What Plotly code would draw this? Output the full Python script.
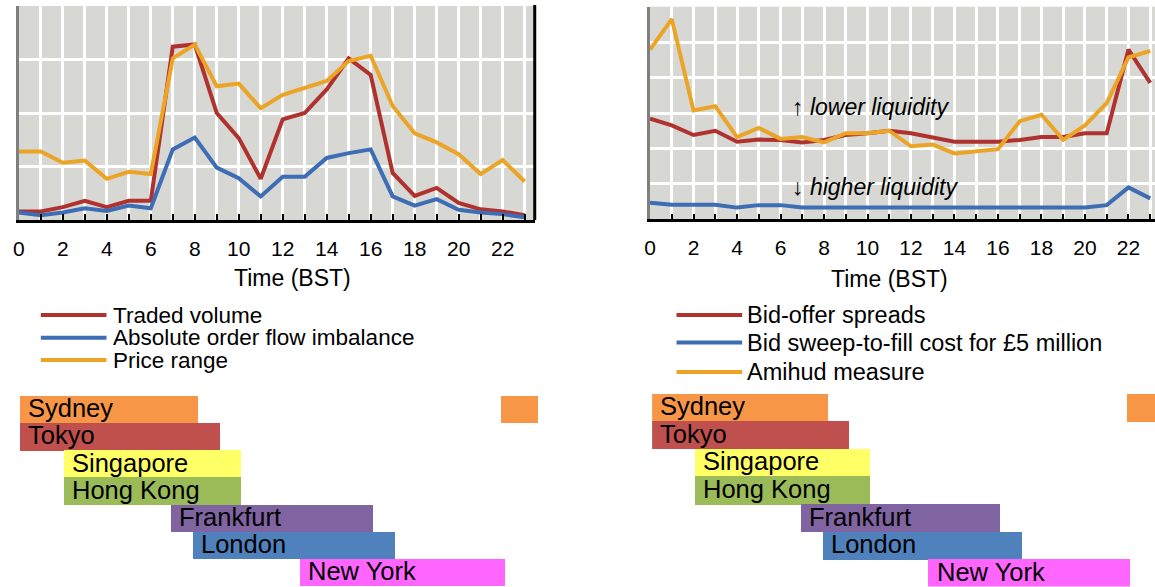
import plotly.graph_objects as go

# ---------------- data ----------------
hours = list(range(24))
tick_labels = ["0", "", "2", "", "4", "", "6", "", "8", "", "10", "", "12", "",
               "14", "", "16", "", "18", "", "20", "", "22", ""]

# left panel
traded_volume = [0.16, 0.16, 0.24, 0.36, 0.24, 0.36, 0.36, 3.24, 3.28, 2.00, 1.53, 0.77,
                 1.88, 2.00, 2.44, 3.02, 2.71, 0.88, 0.45, 0.60, 0.32, 0.20, 0.16, 0.09]
order_flow_imbalance = [0.14, 0.09, 0.14, 0.22, 0.17, 0.27, 0.22, 1.32, 1.54, 0.98, 0.78, 0.44,
                        0.81, 0.81, 1.16, 1.25, 1.32, 0.44, 0.27, 0.39, 0.19, 0.14, 0.11, 0.05]
price_range = [1.28, 1.28, 1.07, 1.11, 0.77, 0.90, 0.86, 3.02, 3.28, 2.50, 2.55, 2.09,
               2.34, 2.47, 2.60, 2.97, 3.07, 2.13, 1.62, 1.45, 1.23, 0.86, 1.12, 0.72]

# right panel
bid_offer_spreads = [2.84, 2.65, 2.38, 2.50, 2.19, 2.25, 2.24, 2.17, 2.24, 2.38, 2.43, 2.50,
                     2.43, 2.32, 2.19, 2.19, 2.19, 2.24, 2.32, 2.32, 2.43, 2.43, 4.79, 3.85]
sweep_to_fill_cost = [0.47, 0.41, 0.41, 0.41, 0.33, 0.40, 0.40, 0.33, 0.33, 0.33, 0.33, 0.33,
                      0.33, 0.33, 0.33, 0.33, 0.33, 0.33, 0.33, 0.33, 0.33, 0.40, 0.90, 0.59]
amihud_measure = [4.79, 5.65, 3.07, 3.19, 2.32, 2.58, 2.27, 2.32, 2.17, 2.43, 2.43, 2.50,
                  2.06, 2.11, 1.86, 1.92, 1.98, 2.77, 2.95, 2.24, 2.65, 3.28, 4.57, 4.75]

# trading sessions (hours, BST)
session_names = ["Sydney", "Tokyo", "Singapore", "Hong Kong", "Frankfurt", "London", "New York"]
session_start = [0, 0, 2, 2, 6.9, 7.9, 12.8]
session_end = [8.14, 9.14, 10.11, 10.11, 16.14, 17.14, 22.14]
sydney_late_start = 22.0
sydney_late_end = 23.68
session_colors = ["#F79646", "#C0504D", "#FFFF66", "#9BBB59", "#8064A2", "#4F81BD", "#FF66FF"]

left_names = ["Traded volume", "Absolute order flow imbalance", "Price range"]
right_names = ["Bid-offer spreads", "Bid sweep-to-fill cost for £5 million", "Amihud measure"]
line_colors = ["#B0322E", "#3D6DB5", "#ECA426"]

# ---------------- figure ----------------
W, H = 1155, 587
FONT = "Liberation Sans, Arial, sans-serif"
GRID_BG = "#D7D7D3"


def px(x):
    return x / W


def py(y):
    return 1 - y / H


fig = go.Figure()

for series, col in zip([traded_volume, order_flow_imbalance, price_range], line_colors):
    fig.add_trace(go.Scatter(x=hours, y=series, mode="lines",
                             line=dict(color=col, width=4), xaxis="x", yaxis="y",
                             showlegend=False, hoverinfo="skip"))
for series, col in zip([bid_offer_spreads, sweep_to_fill_cost, amihud_measure], line_colors):
    fig.add_trace(go.Scatter(x=hours, y=series, mode="lines",
                             line=dict(color=col, width=4), xaxis="x2", yaxis="y2",
                             showlegend=False, hoverinfo="skip"))

rows = list(range(len(session_names))) + [0]
starts = session_start + [sydney_late_start]
ends = session_end + [sydney_late_end]
durations = [e - s for s, e in zip(starts, ends)]
colors = session_colors + [session_colors[0]]
for xa, ya in [("x3", "y3"), ("x4", "y4")]:
    fig.add_trace(go.Bar(orientation="h", y=rows, x=durations, base=starts,
                         marker=dict(color=colors, line=dict(width=0)), width=1.02,
                         xaxis=xa, yaxis=ya, showlegend=False, hoverinfo="skip"))

chart_x = dict(
    tickmode="array", tickvals=hours, ticktext=tick_labels,
    showgrid=True, gridcolor="white", gridwidth=3,
    showline=True, linecolor="black", linewidth=2.5,
    ticks="inside", ticklen=6, tickwidth=2, tickcolor="black",
    tickfont=dict(family=FONT, size=21, color="black"),
    ticklabelstandoff=8, zeroline=False, fixedrange=True,
)
chart_y = dict(
    showticklabels=False, ticks="", dtick=1, showgrid=True, gridcolor="white",
    gridwidth=3, showline=True, linecolor="#7F7F7F", linewidth=3, zeroline=False,
    fixedrange=True,
)
bar_x = dict(visible=False, showgrid=False, zeroline=False, fixedrange=True)
bar_y = dict(visible=False, showgrid=False, zeroline=False, range=[6.5, -0.5], fixedrange=True)

fig.update_layout(
    width=W, height=H, margin=dict(l=0, r=0, t=0, b=0),
    paper_bgcolor="white", plot_bgcolor="white",
    font=dict(family=FONT, color="black"),
    bargap=0,
    xaxis=dict(chart_x, domain=[px(12.9), px(531.5)], range=[0, 23.46], anchor="y"),
    yaxis=dict(chart_y, domain=[py(220), py(6)], range=[0, 4], anchor="x"),
    xaxis2=dict(chart_x, domain=[px(647.4), 1], range=[0, 23.22], anchor="y2"),
    yaxis2=dict(chart_y, domain=[py(219.3), py(6.7)], range=[0, 6], anchor="x2"),
    xaxis3=dict(bar_x, domain=[px(14), px(542)], range=[0, 24], anchor="y3"),
    yaxis3=dict(bar_y, domain=[py(586), py(395.6)], anchor="x3"),
    xaxis4=dict(bar_x, domain=[px(649.5), 1], range=[0, 23.29], anchor="y4"),
    yaxis4=dict(bar_y, domain=[py(586.5), py(393.5)], anchor="x4"),
)

shapes = []
# grey plot backgrounds (below gridlines)
for xr, yr in [("x domain", "y domain"), ("x2 domain", "y2 domain")]:
    shapes.append(dict(type="rect", xref=xr, yref=yr, x0=0, x1=1, y0=0, y1=1,
                       fillcolor=GRID_BG, line=dict(width=0), layer="below"))
# black right border of the left panel
shapes.append(dict(type="line", xref="x domain", yref="y domain", x0=1, x1=1, y0=0, y1=1.005,
                   line=dict(color="black", width=3), layer="above"))

annotations = []
# manual legends
left_leg_y = [315, 337.7, 360]
right_leg_y = [315.1, 342.6, 372]
for i in range(3):
    shapes.append(dict(type="line", xref="paper", yref="paper",
                       x0=px(35), x1=px(101), y0=py(left_leg_y[i]), y1=py(left_leg_y[i]),
                       line=dict(color=line_colors[i], width=4)))
    annotations.append(dict(xref="paper", yref="paper", x=px(106), y=py(left_leg_y[i]),
                            text=left_names[i], showarrow=False, xanchor="left", yanchor="middle",
                            font=dict(size=22.5, family=FONT, color="black")))
    shapes.append(dict(type="line", xref="paper", yref="paper",
                       x0=px(674), x1=px(740), y0=py(right_leg_y[i]), y1=py(right_leg_y[i]),
                       line=dict(color=line_colors[i], width=4)))
    annotations.append(dict(xref="paper", yref="paper", x=px(743), y=py(right_leg_y[i]),
                            text=right_names[i], showarrow=False, xanchor="left", yanchor="middle",
                            font=dict(size=23.5, family=FONT, color="black")))

# axis titles
for xc, yc in [(288, 278), (888, 279)]:
    annotations.append(dict(xref="paper", yref="paper", x=px(xc), y=py(yc), text="Time (BST)",
                            showarrow=False, xanchor="center", yanchor="middle",
                            font=dict(size=23, family=FONT, color="black")))

# liquidity notes
annotations.append(dict(xref="x2", yref="y2", x=6.45, y=3.18, text="↑ <i>lower liquidity</i>",
                        showarrow=False, xanchor="left", yanchor="middle",
                        font=dict(size=23, family=FONT, color="black")))
annotations.append(dict(xref="x2", yref="y2", x=6.45, y=0.92, text="↓ <i>higher liquidity</i>",
                        showarrow=False, xanchor="left", yanchor="middle",
                        font=dict(size=23, family=FONT, color="black")))

# session labels
for xa, ya in [("x3", "y3"), ("x4", "y4")]:
    for r, (name, s) in enumerate(zip(session_names, session_start)):
        annotations.append(dict(xref=xa, yref=ya, x=s, y=r, text=name, showarrow=False,
                                xanchor="left", yanchor="middle", xshift=6, yshift=1,
                                font=dict(size=25.5, family=FONT, color="black")))

fig.update_layout(shapes=shapes, annotations=annotations)

fig.write_html("out.html", config={"displayModeBar": False},
               post_script="document.body.style.margin='0px';")
